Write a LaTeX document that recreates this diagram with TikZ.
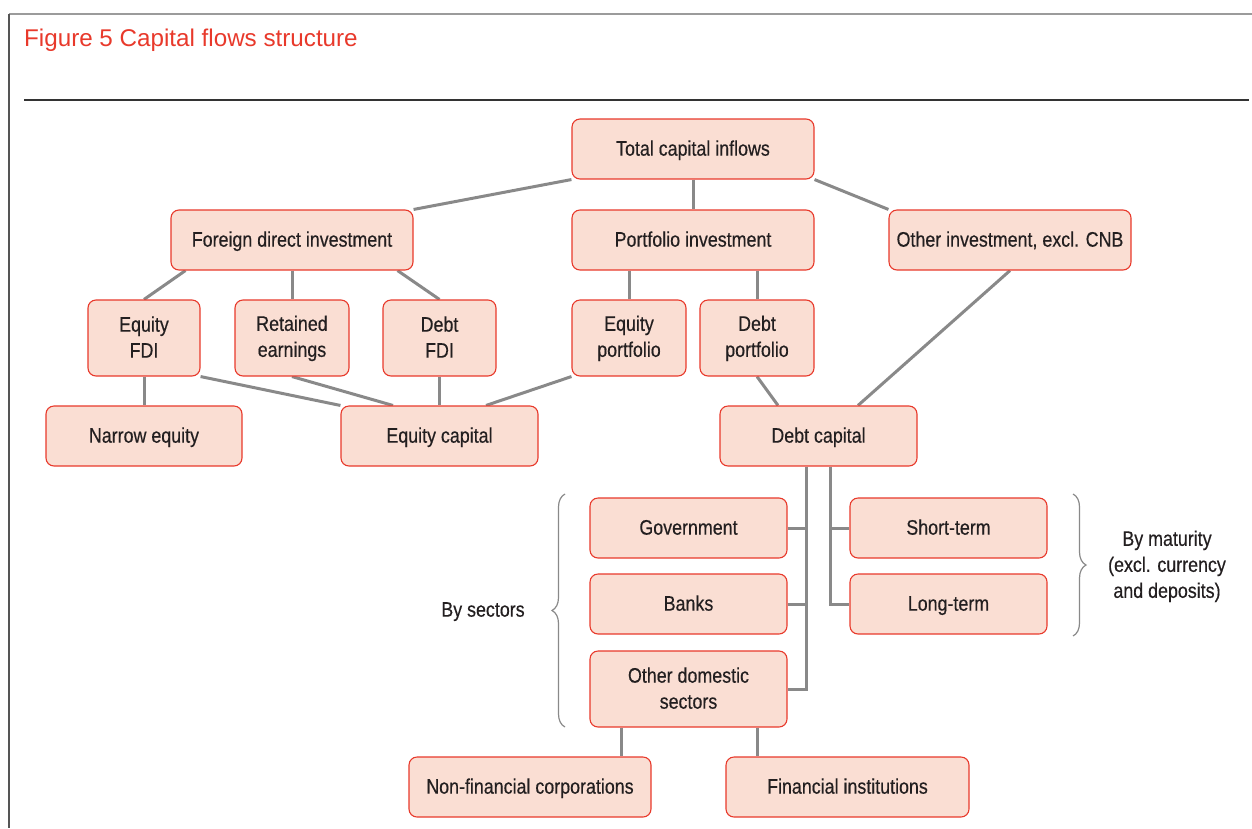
\documentclass[tikz,border=0pt]{standalone}
\usepackage{fontspec}
\setmainfont{Liberation Sans}
\newfontfamily\cond[FakeStretch=0.85,FakeBold=0.4]{Liberation Sans}
\usetikzlibrary{decorations.pathreplacing,backgrounds,calc}
\definecolor{boxfill}{RGB}{250,222,211}
\definecolor{boxline}{RGB}{232,57,43}
\definecolor{conn}{RGB}{137,137,137}
\definecolor{txt}{RGB}{35,31,32}
\definecolor{titlered}{RGB}{232,57,43}
\newcommand\mtop{\rule{0pt}{16pt}}
\newcommand\mbot{\rule[-2.7pt]{0pt}{2.7pt}}
\tikzset{
  box/.style={draw=boxline, fill=boxfill, line width=1.1pt, rounded corners=8pt,
    align=center, text=txt, font=\cond\fontsize{21}{26}\selectfont, inner sep=0pt},
  one/.style={text height=16pt, text depth=2.7pt},
  w242/.style={minimum width=242pt, minimum height=60pt},
  w197/.style={minimum width=197pt, minimum height=60pt},
  w197t/.style={minimum width=197pt, minimum height=76pt},
  w113/.style={minimum width=113pt, minimum height=76pt},
  link/.style={draw=conn, line width=3pt},
  bracestyle/.style={draw=conn, line width=1.2pt, decorate},
  lbl/.style={align=center, text=txt, font=\cond\fontsize{21}{26}\selectfont, inner sep=0pt}
}
\begin{document}
\begin{tikzpicture}[x=1pt,y=-1pt]
\useasboundingbox (0,0) rectangle (1252,828);
% frame
\draw[color={rgb,255:red,155;green,155;blue,155}, line width=2pt] (9,14) -- (1252,14);
\draw[color={rgb,255:red,85;green,85;blue,85}, line width=2pt] (9,14) -- (9,828);
\draw[color={rgb,255:red,51;green,51;blue,51}, line width=1.5pt] (24,100) -- (1249,100);
\node[anchor=base west, inner sep=0pt, text=titlered, font=\fontsize{24.2}{28}\selectfont] (title) at (24,46) {Figure 5 Capital flows structure};

% nodes
\node[box,one,w242] (total) at (693,149) {Total capital inflows};
\node[box,one,w242] (fdi) at (292,240) {Foreign direct investment};
\node[box,one,w242] (port) at (693,240) {Portfolio investment};
\node[box,one,w242] (other) at (1010,240) {Other investment, excl. CNB};
\node[box,minimum width=112pt,minimum height=76pt] (eqfdi) at (144,338) {\mtop Equity\\FDI\mbot};
\node[box,minimum width=114pt,minimum height=76pt] (ret) at (292,338) {\mtop Retained\\earnings\mbot};
\node[box,w113] (dfdi) at (439.5,338) {\mtop Debt\\FDI\mbot};
\node[box,minimum width=114pt,minimum height=76pt] (eqport) at (629,338) {\mtop Equity\\portfolio\mbot};
\node[box,minimum width=114pt,minimum height=76pt] (dport) at (757,338) {\mtop Debt\\portfolio\mbot};
\node[box,one,minimum width=196pt,minimum height=60pt] (narrow) at (144,436) {Narrow equity};
\node[box,one,w197] (eqcap) at (439.5,436) {Equity capital};
\node[box,one,w197] (dcap) at (818.5,436) {Debt capital};
\node[box,one,w197] (gov) at (688.5,528) {Government};
\node[box,one,w197] (banks) at (688.5,604) {Banks};
\node[box,w197t] (ods) at (688.5,689) {\mtop Other domestic\\sectors\mbot};
\node[box,one,w197] (short) at (948.5,528) {Short-term};
\node[box,one,w197] (long) at (948.5,604) {Long-term};
\node[box,one,w242] (nfc) at (530,787) {Non-financial corporations};
\node[box,one,minimum width=243pt,minimum height=60pt] (fin) at (847.5,787) {Financial institutions};

% labels
\node[lbl,one] (bysec) at (483,610) {By sectors};
\node[lbl] (bymat) at (1167,566) {\mtop By maturity\\(excl. currency\\and deposits)\mbot};

% braces
\coordinate (lb1) at (565,727);
\coordinate (lb2) at (565,494);
\draw[bracestyle, decoration={brace,amplitude=13pt}] (lb1) -- (lb2);
\coordinate (rb1) at (1073,494);
\coordinate (rb2) at (1073,636);
\draw[bracestyle, decoration={brace,amplitude=13pt}] (rb1) -- (rb2);

% connectors
\begin{scope}[on background layer]
\draw[link] (total.south west) -- (fdi.north east);
\draw[link] (total.south) -- (port.north);
\draw[link] (total.south east) -- (other.north west);
\draw[link] ([xshift=15pt]fdi.south west) -- (eqfdi.north);
\draw[link] (fdi.south) -- (ret.north);
\draw[link] ([xshift=-16pt]fdi.south east) -- (dfdi.north);
\draw[link] (port.south -| eqport.north) -- (eqport.north);
\draw[link] (port.south -| dport.north) -- (dport.north);
\draw[link] (eqfdi.south) -- (narrow.north);
\draw[link] (eqfdi.south east) -- (eqcap.north west);
\draw[link] (ret.south) -- ([xshift=-46.5pt]eqcap.north);
\draw[link] (dfdi.south) -- (eqcap.north);
\draw[link] (eqport.south west) -- ([xshift=46.5pt]eqcap.north);
\draw[link] (dport.south) -- ([xshift=-40.5pt]dcap.north);
\draw[link] (other.south) -- ([xshift=39.5pt]dcap.north);
\coordinate (b1) at ([xshift=-12.5pt]dcap.south);
\coordinate (b2) at ([xshift=11.5pt]dcap.south);
\draw[link] (b1) |- (ods.east);
\draw[link] (gov.east) -| (b1);
\draw[link] (banks.east) -| (b1);
\draw[link] (b2) |- (long.west);
\draw[link] (short.west) -| (b2);
\coordinate (c1) at ([xshift=-67.5pt]ods.south);
\coordinate (c2) at ([xshift=68.5pt]ods.south);
\draw[link] (c1) -- (c1 |- nfc.north);
\draw[link] (c2) -- (c2 |- fin.north);
\end{scope}
\end{tikzpicture}
\end{document}
